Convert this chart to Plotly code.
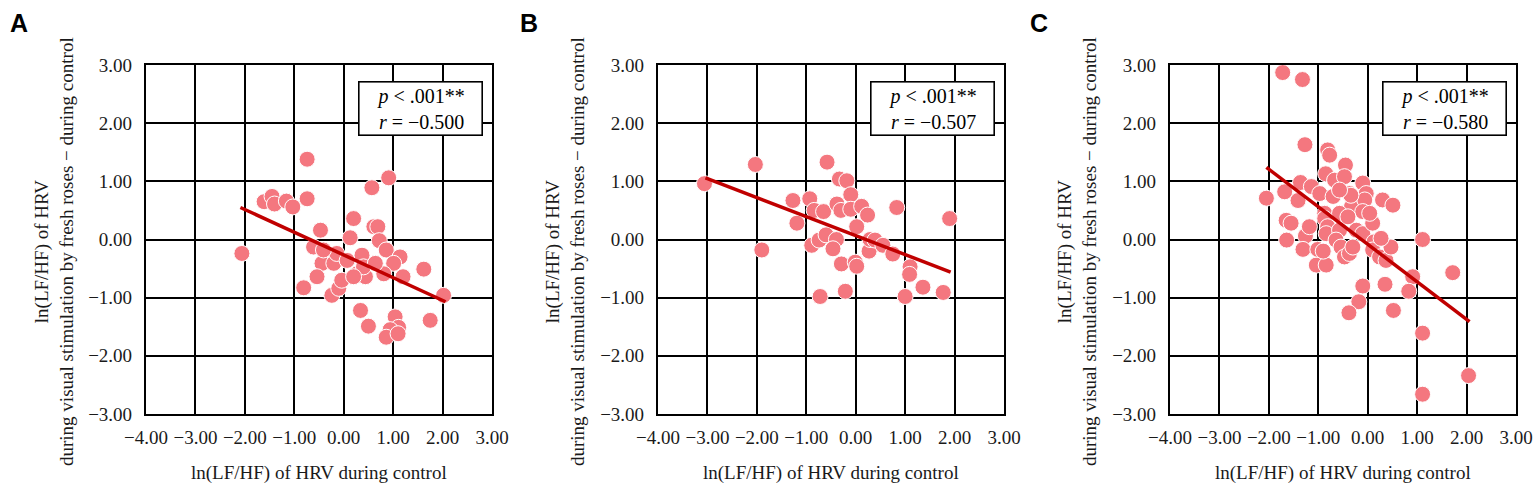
import plotly.graph_objects as go

# panel A
a_x = [-0.74, -1.61, -1.45, -1.40, -1.16, -1.03, -0.74, -2.06, 0.91, 0.57, 0.20, 0.13,
       0.61, 0.69, 0.72, 0.86, 1.14, 1.01, 0.81, 1.20, 1.62, 2.02, 1.75, 1.04, 1.11, 0.94,
       0.86, 1.10, 0.50, 0.34, -0.47, -0.61, -0.44, -0.54, -0.81, -0.24, -0.10, -0.04,
       -0.20, -0.14, 0.07, 0.27, 0.37, 0.44, 0.40, 0.64, 0.20, -0.41]
a_y = [1.38, 0.65, 0.74, 0.61, 0.66, 0.56, 0.70, -0.24, 1.06, 0.89, 0.36, 0.03,
       0.22, 0.22, -0.02, -0.18, -0.30, -0.41, -0.59, -0.64, -0.51, -0.96, -1.39, -1.33, -1.51, -1.55,
       -1.68, -1.62, -1.49, -1.22, 0.16, -0.13, -0.41, -0.64, -0.83, -0.96, -0.84, -0.70,
       -0.41, -0.24, -0.36, -0.59, -0.27, -0.64, -0.47, -0.41, -0.64, -0.18]
a_fit_x = [-2.09, 2.06]
a_fit_y = [0.55, -1.07]

# panel B
b_x = [-3.06, -2.03, -1.90, -1.27, -1.19, -0.93, -0.84, -0.65, -0.58, -0.33, -0.18, -0.10,
       -0.38, -0.30, -0.10, 0.12, 0.24, 0.02, -0.89, -0.74, -0.60, -0.39, -0.46, -0.29,
       -0.01, 0.02, -0.21, -0.72, 0.27, 0.29, 0.39, 0.55, 0.75, 0.83, 1.10, 1.09, 1.00,
       1.36, 1.77, 1.90]
b_y = [0.96, 1.29, -0.18, 0.67, 0.28, 0.70, 0.50, 0.48, 1.33, 1.04, 1.01, 0.77,
       0.61, 0.50, 0.52, 0.57, 0.42, 0.22, -0.10, -0.01, 0.08, 0.00, -0.16, -0.42,
       -0.39, -0.46, -0.89, -0.98, -0.20, 0.00, -0.01, -0.10, -0.25, 0.55, -0.47, -0.60, -0.98,
       -0.82, -0.91, 0.36]
b_fit_x = [-3.04, 1.92]
b_fit_y = [1.06, -0.56]

# panel C
c_x = [-1.72, -1.32, -1.27, -2.05, -1.68, -1.41, -1.36, -1.14, -1.65, -1.55, -1.64, -1.26,
       -1.18, -1.31, -1.04, -0.84, -1.01, -0.90, -0.81, -0.77, -0.85, -0.97, -0.70, -0.87,
       -0.87, -0.81, -0.84, -0.67, -0.45, -0.47, -0.37, -0.33, -0.57, -0.57, -0.64, -0.54,
       -0.47, -0.37, -0.30, -0.10, -0.03, -0.06, -0.10, -0.23, -0.10, 0.10, 0.30, 0.51,
       0.13, 0.10, 0.24, 0.37, 0.47, 0.27, -0.10, -0.18, -0.38, 0.35, 0.52, 0.91, 0.83,
       1.11, 1.11, 1.11, 1.72, 2.04, -0.34, -0.57, -0.40, 0.04]
c_y = [2.87, 2.75, 1.63, 0.71, 0.82, 0.67, 0.98, 0.91, 0.33, 0.28, -0.01, 0.06,
       0.22, -0.17, -0.44, -0.44, -0.17, -0.20, 1.54, 1.45, 1.13, 0.79, 0.74, 0.45,
       0.36, 0.22, 0.10, 1.02, 1.28, 1.08, 0.79, 0.56, 0.45, 0.16, -0.01, -0.13,
       -0.30, -0.24, -0.13, 0.97, 0.79, 0.68, 0.48, 0.16, 0.10, 0.28, 0.68, 0.59,
       -0.04, -0.18, -0.30, -0.36, -0.13, 0.02, -0.80, -1.07, -1.26, -0.77, -1.22, -0.64, -0.89,
       0.00, -1.61, -2.66, -0.57, -2.34, 0.76, 0.85, 0.39, 0.45]
c_fit_x = [-2.05, 2.06]
c_fit_y = [1.24, -1.41]

panels = [
    ("A", a_x, a_y, a_fit_x, a_fit_y, "\u22120.500"),
    ("B", b_x, b_y, b_fit_x, b_fit_y, "\u22120.507"),
    ("C", c_x, c_y, c_fit_x, c_fit_y, "\u22120.580"),
]

x_ticks = [-4, -3, -2, -1, 0, 1, 2, 3]
y_ticks = [-3, -2, -1, 0, 1, 2, 3]

W, H = 1535, 488
# plot areas in pixels (left, right), shared top/bottom
x_px = [(146, 492), (658, 1004), (1170, 1516)]
top_px, bottom_px = 65, 414
ytitle_px = [54, 565, 1077]
letter_px = [19, 529, 1039]

SERIF = "Liberation Serif, Times New Roman, serif"


def px_x(v):
    return v / W


def px_y(v):
    return 1 - v / H


def fmt(v):
    s = "%.2f" % abs(v)
    return ("\u2212" + s) if v < 0 else s


fig = go.Figure()
annotations = []
for i, (letter, xs, ys, fx, fy, r) in enumerate(panels):
    n = "" if i == 0 else str(i + 1)
    xa, ya = "x" + n, "y" + n
    fig.add_trace(go.Scatter(
        x=xs, y=ys, mode="markers", xaxis=xa, yaxis=ya, showlegend=False,
        marker=dict(size=16, color="#F4777F", line=dict(color="white", width=1)),
    ))
    fig.add_trace(go.Scatter(
        x=fx, y=fy, mode="lines", xaxis=xa, yaxis=ya, showlegend=False,
        line=dict(color="#C00000", width=3.5),
    ))
    l, rr = x_px[i]
    axis_common = dict(
        showgrid=True, gridcolor="black", gridwidth=1.6, zeroline=False,
        showline=True, linecolor="black", linewidth=2.2, mirror=True,
        ticks="", automargin=False,
        tickfont=dict(family=SERIF, size=19, color="#1a1a1a"),
    )
    fig.update_layout(**{
        ("xaxis" + n): dict(
            domain=[px_x(l), px_x(rr)], range=[-4, 3], anchor=ya,
            tickvals=x_ticks, ticktext=[fmt(v) for v in x_ticks],
            ticklabelstandoff=5, **axis_common),
        ("yaxis" + n): dict(
            domain=[px_y(bottom_px), px_y(top_px)], range=[-3, 3], anchor=xa,
            tickvals=y_ticks, ticktext=[fmt(v) for v in y_ticks],
            ticklabelstandoff=8, **axis_common),
    })
    # stats box
    annotations.append(dict(
        xref=xa + " domain", yref=ya + " domain", x=0.793, y=0.955,
        xanchor="center", yanchor="top", showarrow=False, align="center",
        text="<i>p</i> < .001**<br><i>r</i> = " + r,
        font=dict(family=SERIF, size=20, color="black"),
        bordercolor="black", borderwidth=1.6, bgcolor="white",
        width=120, height=50,
    ))
    # y title
    annotations.append(dict(
        xref="paper", yref="paper", x=px_x(ytitle_px[i]), y=px_y(252),
        xanchor="center", yanchor="middle", showarrow=False, textangle=-90,
        text="ln(LF/HF) of HRV<br>during visual stimulation by fresh roses \u2212 during control",
        font=dict(family=SERIF, size=19, color="#1a1a1a"),
    ))
    # x title
    annotations.append(dict(
        xref="paper", yref="paper", x=px_x((l + rr) / 2), y=px_y(473),
        xanchor="center", yanchor="middle", showarrow=False,
        text="ln(LF/HF) of HRV during control",
        font=dict(family=SERIF, size=19, color="#1a1a1a"),
    ))
    # panel letter
    annotations.append(dict(
        xref="paper", yref="paper", x=px_x(letter_px[i]), y=px_y(23),
        xanchor="center", yanchor="middle", showarrow=False,
        text="<b>" + letter + "</b>",
        font=dict(family="Liberation Sans, Arial, sans-serif", size=25, color="black"),
    ))

fig.update_layout(
    width=W, height=H, margin=dict(l=0, r=0, t=0, b=0),
    paper_bgcolor="white", plot_bgcolor="white",
    annotations=annotations,
)

# drop the default page margin so the figure fills the window exactly
fig.write_html(
    "out.html",
    config={"displayModeBar": False},
    post_script="document.body.style.margin='0';document.body.style.overflow='hidden';",
)
